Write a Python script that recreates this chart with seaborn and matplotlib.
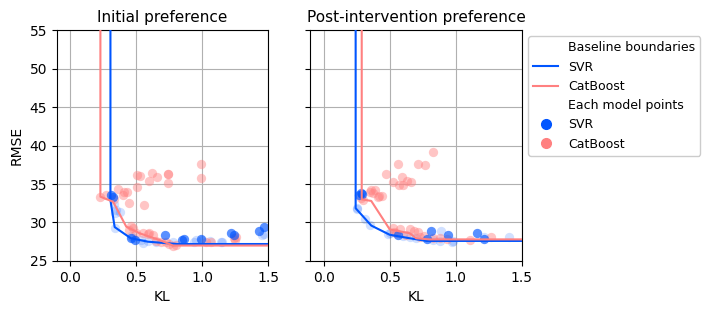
import matplotlib
matplotlib.use('Agg')
import matplotlib.pyplot as plt
import seaborn as sns
from matplotlib.lines import Line2D

# baseline boundaries (KL, RMSE)
init_svr_bound_kl = [0.306, 0.306, 0.338, 0.46, 0.59, 0.81, 2.0]
init_svr_bound_rmse = [60, 32.9, 29.4, 27.95, 27.5, 27.2, 27.2]
init_cat_bound_kl = [0.23, 0.23, 0.326, 0.426, 0.526, 0.68, 0.78, 2.0]
init_cat_bound_rmse = [60, 33.35, 32.7, 29.45, 28.6, 27.7, 27.0, 27.0]

post_svr_bound_kl = [0.242, 0.242, 0.30, 0.36, 0.5, 0.65, 0.78, 2.0]
post_svr_bound_rmse = [60, 31.85, 30.75, 29.6, 28.4, 27.95, 27.6, 27.6]
post_cat_bound_kl = [0.288, 0.288, 0.36, 0.5, 0.65, 0.70, 0.80, 2.0]
post_cat_bound_rmse = [60, 33.0, 32.8, 29.1, 28.6, 27.95, 27.8, 27.8]

# each model points - initial preference
init_svr_best_kl = [0.31, 0.326, 0.46, 0.49, 0.72, 0.85, 0.86, 0.99, 1.22, 1.24, 1.43, 1.47]
init_svr_best_rmse = [33.6, 33.35, 27.95, 27.7, 28.4, 27.7, 27.85, 27.85, 28.6, 28.4, 28.95, 29.45]
init_svr_rest_kl = [0.33, 0.35, 0.34, 0.376, 0.34, 0.46, 0.475, 0.54, 0.55, 0.59, 0.65, 0.78,
                    0.94, 0.95, 1.0, 1.06, 1.14, 1.15, 1.45, 1.47]
init_svr_rest_rmse = [32.4, 31.6, 31.2, 31.4, 29.25, 28.25, 27.95, 27.7, 27.3, 27.55, 27.4, 27.5,
                      27.5, 27.7, 27.75, 27.6, 27.5, 27.5, 28.4, 28.5]
init_cat_pts_kl = [0.23, 0.27, 0.33, 0.36, 0.40, 0.41, 0.43, 0.45, 0.56, 0.51, 0.53, 0.51, 0.60,
                   0.62, 0.66, 0.745, 0.745, 0.745, 0.995, 0.995, 0.46, 0.475, 0.45, 0.50, 0.55,
                   0.59, 0.63, 0.60, 0.65, 0.69, 0.73, 0.75, 0.80, 0.78, 1.03, 1.065, 1.24, 1.25, 1.26]
init_cat_pts_rmse = [33.35, 33.55, 33.0, 34.3, 33.6, 33.95, 33.9, 32.5, 32.3, 34.65, 36.1, 36.2, 35.35,
                     36.4, 35.95, 36.25, 35.1, 36.3, 37.55, 35.8, 29.5, 29.25, 29.0, 28.6, 28.6,
                     28.5, 28.4, 28.6, 27.6, 27.5, 27.5, 27.2, 27.1, 27.0, 27.5, 27.4, 28.0, 27.7, 28.1]

# each model points - post-intervention preference
post_svr_best_kl = [0.27, 0.29, 0.285, 0.56, 0.78, 0.81, 0.94, 1.157, 1.21]
post_svr_best_rmse = [33.6, 33.7, 33.8, 28.4, 27.8, 28.95, 28.4, 28.6, 27.9]
post_svr_rest_kl = [0.25, 0.25, 0.31, 0.35, 0.5, 0.487, 0.60, 0.65, 0.70, 0.83, 0.88, 0.886,
                    0.97, 0.98, 1.21, 1.40]
post_svr_rest_rmse = [31.7, 31.85, 30.4, 29.7, 28.6, 28.5, 28.3, 28.1, 28.0, 27.7, 27.6, 28.95,
                      27.5, 27.6, 28.15, 28.15]
post_cat_pts_kl = [0.83, 0.563, 0.715, 0.77, 0.47, 0.593, 0.525, 0.568, 0.60, 0.634, 0.664, 0.35,
                   0.36, 0.39, 0.37, 0.42, 0.44, 0.41, 0.30, 0.285, 0.525, 0.575, 0.53, 0.65, 0.68,
                   0.715, 0.727, 0.83, 0.88, 0.93, 1.106, 1.27, 0.55, 0.62, 0.76]
post_cat_pts_rmse = [39.1, 37.6, 37.6, 37.45, 36.3, 35.95, 35.2, 34.9, 34.9, 35.35, 35.25, 34.0,
                     34.2, 34.2, 33.8, 33.45, 33.45, 33.35, 32.9, 33.15, 29.25, 29.1, 28.8, 29.1, 28.95,
                     28.7, 28.15, 28.0, 27.95, 27.8, 27.7, 28.15, 28.6, 28.4, 28.3]

titles = ['Initial preference', 'Post-intervention preference']

svr_color = '#0055ff'
cat_color = '#ff8080'

panels = [
    ((init_svr_bound_kl, init_svr_bound_rmse), (init_cat_bound_kl, init_cat_bound_rmse),
     (init_svr_best_kl, init_svr_best_rmse), (init_svr_rest_kl, init_svr_rest_rmse),
     (init_cat_pts_kl, init_cat_pts_rmse)),
    ((post_svr_bound_kl, post_svr_bound_rmse), (post_cat_bound_kl, post_cat_bound_rmse),
     (post_svr_best_kl, post_svr_best_rmse), (post_svr_rest_kl, post_svr_rest_rmse),
     (post_cat_pts_kl, post_cat_pts_rmse)),
]

fig, axes = plt.subplots(1, 2, figsize=(7.1, 3.14), dpi=100, sharey=True)
fig.subplots_adjust(left=0.08, right=0.735, top=0.904, bottom=0.169, wspace=0.2)

for ax, title, (svr_b, cat_b, svr_best, svr_rest, cat_pts) in zip(axes, titles, panels):
    ax.set_axisbelow(True)
    ax.grid(True, color='#b0b0b0', linewidth=0.8)
    sns.scatterplot(x=svr_rest[0], y=svr_rest[1], color=svr_color, alpha=0.18, s=45,
                    linewidth=0, ax=ax, zorder=2)
    sns.scatterplot(x=cat_pts[0], y=cat_pts[1], color=cat_color, alpha=0.45, s=45,
                    linewidth=0, ax=ax, zorder=2)
    sns.scatterplot(x=svr_best[0], y=svr_best[1], color=svr_color, alpha=0.65, s=45,
                    linewidth=0, ax=ax, zorder=2)
    sns.lineplot(x=svr_b[0], y=svr_b[1], color=svr_color, sort=False, estimator=None,
                 linewidth=1.5, ax=ax, zorder=3)
    sns.lineplot(x=cat_b[0], y=cat_b[1], color=cat_color, sort=False, estimator=None,
                 linewidth=1.5, ax=ax, zorder=3)
    ax.set_title(title, fontsize=11)
    ax.set_xlim(-0.1, 1.5)
    ax.set_ylim(25, 55)
    ax.set_xticks([0.0, 0.5, 1.0, 1.5])
    ax.set_yticks([25, 30, 35, 40, 45, 50, 55])
    ax.set_xlabel('KL')

axes[0].set_ylabel('RMSE')
axes[1].set_ylabel('')

handles = [
    Line2D([], [], linestyle='none', marker=''),
    Line2D([], [], color=svr_color, linewidth=1.5),
    Line2D([], [], color=cat_color, linewidth=1.5),
    Line2D([], [], linestyle='none', marker=''),
    Line2D([], [], linestyle='none', marker='o', markersize=7, color=svr_color),
    Line2D([], [], linestyle='none', marker='o', markersize=7, color=cat_color),
]
labels = ['Baseline boundaries', 'SVR', 'CatBoost', 'Each model points', 'SVR', 'CatBoost']
axes[1].legend(handles, labels, loc='upper left', bbox_to_anchor=(1.0, 1.0), fontsize=9,
               framealpha=1)

fig.savefig('out.png', dpi=100)
